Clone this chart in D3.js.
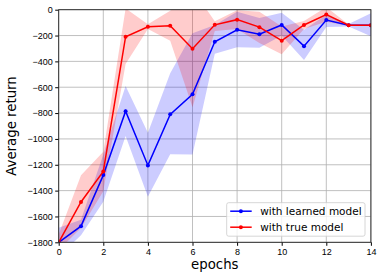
<!DOCTYPE html>
<html>
<head>
<meta charset="utf-8">
<script src="https://d3js.org/d3.v7.min.js"></script>
<style>
  body { margin: 0; background: #fff; }
  svg { font-family: "DejaVu Sans", sans-serif; }
  .grid line { stroke: #b0b0b0; stroke-width: 0.8; }
  .axis text { font-size: 9px; fill: #000; }
  .axis path { display: none; }
  .axis line { stroke: #000; }
</style>
</head>
<body>
<svg width="383" height="280"></svg>
<script>
// epochs on the x axis
var epochs = [0, 1, 2, 3, 4, 5, 6, 7, 8, 9, 10, 11, 12, 13, 14];

// "with learned model": mean and band edges
var learnedMean = [-1800, -1675, -1280, -785, -1205, -810, -655, -248, -155, -190, -118, -282, -80, -120, -120];
var learnedLow  = [-1910, -1745, -1486, -978, -1447, -1119, -1120, -340, -290, -295, -200, -390, -133, -130, -205];
var learnedHigh = [-1688, -1625, -1120, -590, -952, -492, -183, -118, -15, -65, -23, -155, -40, -110, -28];

// "with true model": mean and band edges
var trueMean = [-1800, -1488, -1252, -209, -132, -124, -302, -117, -77, -135, -240, -118, -37, -120, -120];
var trueLow  = [-1860, -1690, -1405, -420, -150, -240, -755, -165, -150, -258, -345, -150, -93, -126, -126];
var trueHigh = [-1740, -1282, -1100, 10, -112, -8, 160, -90, -5, -15, -130, -88, 20, -114, -114];

var xTicks = [0, 2, 4, 6, 8, 10, 12, 14];
var yTicks = [0, -200, -400, -600, -800, -1000, -1200, -1400, -1600, -1800];

var svg = d3.select("svg"),
    margin = {top: 9.7, right: 12.1, bottom: 37.7, left: 58.7},
    width = svg.attr("width") - margin.left - margin.right,
    height = svg.attr("height") - margin.top - margin.bottom,
    g = svg.append("g").attr("transform", "translate(" + margin.left + "," + margin.top + ")");

var x = d3.scaleLinear().domain([0, 14]).range([0, width]),
    y = d3.scaleLinear().domain([-1800, 0]).range([height, 0]);

g.append("clipPath").attr("id", "clip")
  .append("rect").attr("width", width).attr("height", height);

// grid
g.append("g").attr("class", "grid")
  .selectAll("line.v").data(xTicks).enter().append("line")
    .attr("x1", function(d) { return x(d); }).attr("x2", function(d) { return x(d); })
    .attr("y1", 0).attr("y2", height);
g.select(".grid")
  .selectAll("line.h").data(yTicks).enter().append("line")
    .attr("y1", function(d) { return y(d); }).attr("y2", function(d) { return y(d); })
    .attr("x1", 0).attr("x2", width);

var series = [
  {name: "with learned model", color: "#0000ff", mean: learnedMean, low: learnedLow, high: learnedHigh},
  {name: "with true model", color: "#ff0000", mean: trueMean, low: trueLow, high: trueHigh}
];

var area = d3.area()
    .x(function(d) { return x(d.e); })
    .y0(function(d) { return y(d.lo); })
    .y1(function(d) { return y(d.hi); });

var line = d3.line()
    .x(function(d) { return x(d.e); })
    .y(function(d) { return y(d.m); });

var plot = g.append("g").attr("clip-path", "url(#clip)");

series.forEach(function(s) {
  s.values = epochs.map(function(e, i) {
    return {e: e, m: s.mean[i], lo: s.low[i], hi: s.high[i]};
  });
  plot.append("path")
    .attr("d", area(s.values))
    .attr("fill", s.color)
    .attr("fill-opacity", 0.2)
    .attr("stroke", "none");
});

series.forEach(function(s) {
  var sg = plot.append("g");
  sg.append("path")
    .attr("d", line(s.values))
    .attr("fill", "none")
    .attr("stroke", s.color)
    .attr("stroke-width", 1.5);
  sg.selectAll("circle").data(s.values).enter().append("circle")
    .attr("cx", function(d) { return x(d.e); })
    .attr("cy", function(d) { return y(d.m); })
    .attr("r", 2)
    .attr("fill", s.color);
});

// axes
g.append("g")
  .attr("class", "axis axis--x")
  .attr("transform", "translate(0," + height + ")")
  .call(d3.axisBottom(x).tickValues(xTicks).tickSize(3.5).tickPadding(2.5).tickFormat(d3.format("d")));

g.append("g")
  .attr("class", "axis axis--y")
  .call(d3.axisLeft(y).tickValues(yTicks).tickSize(3.5).tickPadding(2.5)
        .tickFormat(function(d) { return d < 0 ? "\u2212" + Math.abs(d) : d; }));

// frame
g.append("rect")
  .attr("width", width).attr("height", height)
  .attr("fill", "none").attr("stroke", "#222").attr("stroke-width", 0.9);

// axis labels
svg.append("text")
  .attr("x", margin.left + width / 2)
  .attr("y", 268.5)
  .attr("text-anchor", "middle")
  .style("font-size", "13.3px")
  .text("epochs");

svg.append("text")
  .attr("transform", "translate(16," + (margin.top + height / 2) + ") rotate(-90)")
  .attr("text-anchor", "middle")
  .style("font-size", "13.3px")
  .text("Average return");

// legend
var legend = g.append("g").attr("transform", "translate(" + (226.7 - margin.left) + "," + (202.7 - margin.top) + ")");
legend.append("rect")
  .attr("width", 138.3).attr("height", 33.5).attr("rx", 2)
  .attr("fill", "#fff").attr("fill-opacity", 0.8)
  .attr("stroke", "#ccc").attr("stroke-width", 0.8);

var item = legend.selectAll(".item").data(series).enter().append("g")
  .attr("class", "item")
  .attr("transform", function(d, i) { return "translate(0," + (8.5 + i * 16) + ")"; });
item.append("line")
  .attr("x1", 3.5).attr("x2", 25)
  .attr("stroke", function(d) { return d.color; })
  .attr("stroke-width", 1.5);
item.append("circle")
  .attr("cx", 14.2).attr("r", 2)
  .attr("fill", function(d) { return d.color; });
item.append("text")
  .attr("x", 33.5).attr("dy", "0.35em")
  .style("font-size", "10.5px")
  .text(function(d) { return d.name; });
</script>
</body>
</html>
